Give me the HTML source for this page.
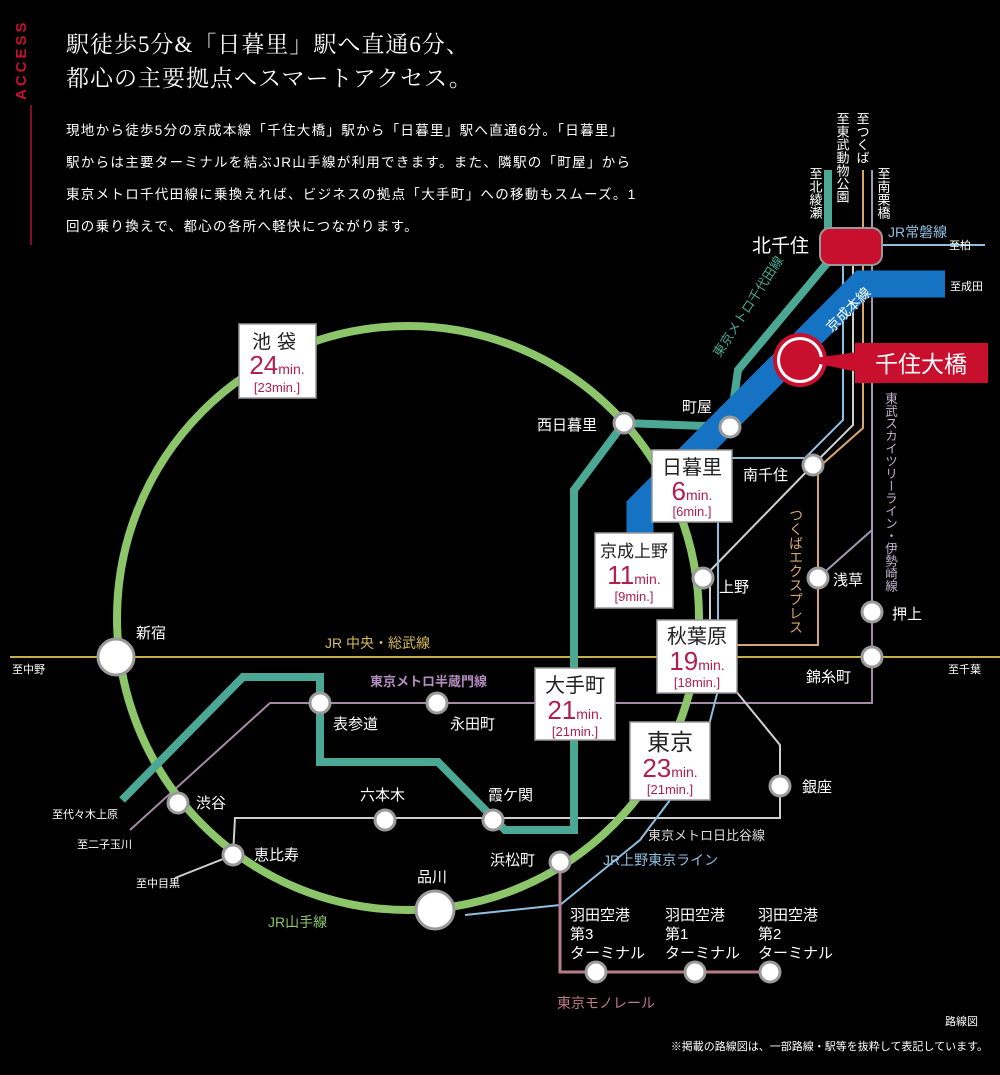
<!DOCTYPE html>
<html><head><meta charset="utf-8"><style>
html,body{margin:0;padding:0;background:#000;}
svg{display:block;font-family:"Liberation Sans","Noto Sans CJK JP",sans-serif;}
.v{writing-mode:vertical-rl;}
</style></head><body>
<svg width="1000" height="1075" viewBox="0 0 1000 1075" xmlns="http://www.w3.org/2000/svg">
<rect width="1000" height="1075" fill="#000"/>
<!-- header -->
<text x="0" y="0" fill="#c8102e" font-size="15" font-weight="bold" letter-spacing="3" transform="translate(26,100) rotate(-90)">ACCESS</text>
<line x1="31" y1="105" x2="31" y2="245" stroke="#b0102a" stroke-width="1.5"/>
<g font-family="'Liberation Serif','Noto Serif CJK SC',serif" fill="#fff" font-size="23" letter-spacing="1">
<text x="66" y="52">駅徒歩5分&amp;「日暮里」駅へ直通6分、</text>
<text x="66" y="86">都心の主要拠点へスマートアクセス。</text>
</g>
<g fill="#fff" font-size="13.5" letter-spacing="1.3">
<text x="66" y="135">現地から徒歩5分の京成本線「千住大橋」駅から「日暮里」駅へ直通6分。「日暮里」</text>
<text x="66" y="167">駅からは主要ターミナルを結ぶJR山手線が利用できます。また、隣駅の「町屋」から</text>
<text x="66" y="199">東京メトロ千代田線に乗換えれば、ビジネスの拠点「大手町」への移動もスムーズ。1</text>
<text x="66" y="231">回の乗り換えで、都心の各所へ軽快につながります。</text>
</g>

<!-- Chuo-Sobu -->
<line x1="10" y1="657" x2="1000" y2="657" stroke="#c9ae45" stroke-width="2"/>
<!-- Hanzomon -->
<polyline points="872,600 872,703 320,703 270,703 130,830" fill="none" stroke="#a58aa6" stroke-width="2"/>
<!-- Tobu -->
<line x1="872" y1="170" x2="872" y2="612" stroke="#a896b8" stroke-width="2"/>
<line x1="872" y1="530" x2="818" y2="578" stroke="#a896b8" stroke-width="2"/>
<!-- Tsukuba -->
<polyline points="863,170 863,428 818,468 818,645 735,645" fill="none" stroke="#d9a56e" stroke-width="2"/>
<!-- Hibiya -->
<polyline points="853,230 853,425 813,465 703,578 710,585 710,660 735,690 780,745 780,818 235,818 233,855 175,878" fill="none" stroke="#cfcfcf" stroke-width="2"/>
<!-- Joban / Ueno-Tokyo light blue -->
<polyline points="882,245 985,245" fill="none" stroke="#8fbfe0" stroke-width="2"/>
<polyline points="843,265 843,420 805,458 718,458 718,690 700,760 640,840 560,905 465,915" fill="none" stroke="#8fbfe0" stroke-width="2"/>
<!-- Yamanote -->
<ellipse cx="408" cy="618" rx="291" ry="292" fill="none" stroke="#8cc56a" stroke-width="8"/>
<!-- Chiyoda -->
<polyline points="828,170 828,262 738,370 730,427 624,423 574,490 574,830 505,830 438,762 320,762 320,677 243,677 122,800" fill="none" stroke="#4aa894" stroke-width="8" stroke-linejoin="miter"/>
<!-- Keisei -->
<polyline points="945,284 862,284 640,507 640,533" fill="none" stroke="#1673c4" stroke-width="27" stroke-linejoin="miter"/>
<!-- Monorail -->
<polyline points="560,862 560,972 770,972" fill="none" stroke="#b67b8c" stroke-width="3"/>

<!-- Kita-senju -->
<rect x="820" y="228" width="62" height="37" rx="10" fill="#c8102e" stroke="#999" stroke-width="2"/>
<!-- Senju-ohashi -->
<circle cx="800" cy="360" r="27" fill="#c8102e"/>
<circle cx="800" cy="360" r="23" fill="#fff"/>
<circle cx="800" cy="360" r="20" fill="#c8102e"/>
<polygon points="800,360 858,352 858,372" fill="#c8102e"/>
<rect x="855" y="343" width="133" height="40" fill="#c8102e"/>
<text x="921" y="372" fill="#fff" font-size="23" text-anchor="middle">千住大橋</text>

<!-- stations -->
<g fill="#fff" stroke="#9a9a9a" stroke-width="3">
<circle cx="116" cy="657" r="18"/>
<circle cx="435" cy="910" r="19"/>
<circle cx="178" cy="803" r="10"/>
<circle cx="233" cy="855" r="10"/>
<circle cx="560" cy="862" r="10"/>
<circle cx="320" cy="703" r="10"/>
<circle cx="437" cy="703" r="10"/>
<circle cx="385" cy="820" r="10"/>
<circle cx="493" cy="820" r="10"/>
<circle cx="624" cy="423" r="10"/>
<circle cx="730" cy="427" r="10"/>
<circle cx="813" cy="465" r="10"/>
<circle cx="703" cy="578" r="10"/>
<circle cx="818" cy="578" r="10"/>
<circle cx="872" cy="612" r="10"/>
<circle cx="872" cy="657" r="10"/>
<circle cx="780" cy="786" r="10"/>
<circle cx="596" cy="972" r="10"/>
<circle cx="695" cy="972" r="10"/>
<circle cx="770" cy="972" r="10"/>
</g>

<!-- boxes -->
<g fill="#fff" stroke="#999" stroke-width="1.5">
<rect x="239" y="324" width="77" height="74"/>
<rect x="652" y="450" width="80" height="72"/>
<rect x="595" y="533" width="78" height="75"/>
<rect x="657" y="620" width="80" height="73"/>
<rect x="535" y="668" width="80" height="72"/>
<rect x="630" y="722" width="80" height="78"/>
</g>
<g text-anchor="middle">
<text x="277" y="348" font-size="19" fill="#222" letter-spacing="6">池袋</text>
<text x="277" y="374" fill="#b01f4e"><tspan font-size="26">24</tspan><tspan font-size="14">min.</tspan></text>
<text x="277" y="392" font-size="13" fill="#b01f4e">[23min.]</text>

<text x="692" y="474" font-size="20" fill="#222">日暮里</text>
<text x="692" y="500" fill="#b01f4e"><tspan font-size="26">6</tspan><tspan font-size="14">min.</tspan></text>
<text x="692" y="516" font-size="13" fill="#b01f4e">[6min.]</text>

<text x="634" y="557" font-size="17" fill="#222">京成上野</text>
<text x="634" y="584" fill="#b01f4e"><tspan font-size="26">11</tspan><tspan font-size="14">min.</tspan></text>
<text x="634" y="601" font-size="13" fill="#b01f4e">[9min.]</text>

<text x="697" y="643" font-size="20" fill="#222">秋葉原</text>
<text x="697" y="670" fill="#b01f4e"><tspan font-size="26">19</tspan><tspan font-size="14">min.</tspan></text>
<text x="697" y="687" font-size="13" fill="#b01f4e">[18min.]</text>

<text x="575" y="692" font-size="20" fill="#222">大手町</text>
<text x="575" y="719" fill="#b01f4e"><tspan font-size="26">21</tspan><tspan font-size="14">min.</tspan></text>
<text x="575" y="736" font-size="13" fill="#b01f4e">[21min.]</text>

<text x="670" y="750" font-size="23" fill="#222">東京</text>
<text x="670" y="777" fill="#b01f4e"><tspan font-size="26">23</tspan><tspan font-size="14">min.</tspan></text>
<text x="670" y="794" font-size="13" fill="#b01f4e">[21min.]</text>
</g>

<!-- station labels -->
<g fill="#fff" font-size="15">
<text x="752" y="252" font-size="19">北千住</text>
<text x="136" y="638">新宿</text>
<text x="196" y="808">渋谷</text>
<text x="254" y="860">恵比寿</text>
<text x="417" y="882">品川</text>
<text x="490" y="865">浜松町</text>
<text x="333" y="729">表参道</text>
<text x="450" y="729">永田町</text>
<text x="360" y="800">六本木</text>
<text x="488" y="800">霞ケ関</text>
<text x="537" y="430">西日暮里</text>
<text x="682" y="412">町屋</text>
<text x="743" y="480">南千住</text>
<text x="719" y="592">上野</text>
<text x="833" y="585">浅草</text>
<text x="892" y="619">押上</text>
<text x="806" y="682">錦糸町</text>
<text x="802" y="792">銀座</text>
<text x="570" y="920">羽田空港</text><text x="570" y="939">第3</text><text x="570" y="958">ターミナル</text>
<text x="665" y="920">羽田空港</text><text x="665" y="939">第1</text><text x="665" y="958">ターミナル</text>
<text x="758" y="920">羽田空港</text><text x="758" y="939">第2</text><text x="758" y="958">ターミナル</text>
</g>
<g fill="#fff" font-size="11">
<text x="12" y="673">至中野</text>
<text x="948" y="673">至千葉</text>
<text x="52" y="818">至代々木上原</text>
<text x="77" y="848">至二子玉川</text>
<text x="136" y="887">至中目黒</text>
<text x="949" y="249">至柏</text>
<text x="950" y="290">至成田</text>
<text x="945" y="1025">路線図</text>
<text x="988" y="1050" text-anchor="end">※掲載の路線図は、一部路線・駅等を抜粋して表記しています。</text>
</g>
<g fill="#fff" font-size="13" class="v">
<text x="815" y="167">至北綾瀬</text>
<text x="842" y="112">至東武動物公園</text>
<text x="862" y="112">至つくば</text>
<text x="883" y="167">至南栗橋</text>
</g>
<!-- line labels -->
<text x="325" y="648" fill="#d8bd55" font-size="14">JR 中央・総武線</text>
<text x="370" y="686" fill="#b58cc0" font-size="13" font-weight="bold">東京メトロ半蔵門線</text>
<text x="648" y="840" fill="#ddd" font-size="13">東京メトロ日比谷線</text>
<text x="603" y="865" fill="#8fbfe0" font-size="14">JR上野東京ライン</text>
<text x="268" y="927" fill="#8cc56a" font-size="14">JR山手線</text>
<text x="557" y="1008" fill="#c07a8e" font-size="14">東京モノレール</text>
<text x="888" y="237" fill="#8fbfe0" font-size="14">JR常磐線</text>
<text x="0" y="0" fill="#4aa894" font-size="13" transform="translate(720,358) rotate(-57)">東京メトロ千代田線</text>
<text x="0" y="0" fill="#fff" font-size="14" transform="translate(832,333) rotate(-45)">京成本線</text>
<g class="v">
<text x="796" y="508" fill="#d9a56e" font-size="14">つくばエクスプレス</text>
<text x="890" y="392" fill="#c0b0cc" font-size="12.5">東武スカイツリーライン・伊勢崎線</text>
</g>
</svg>
</body></html>
